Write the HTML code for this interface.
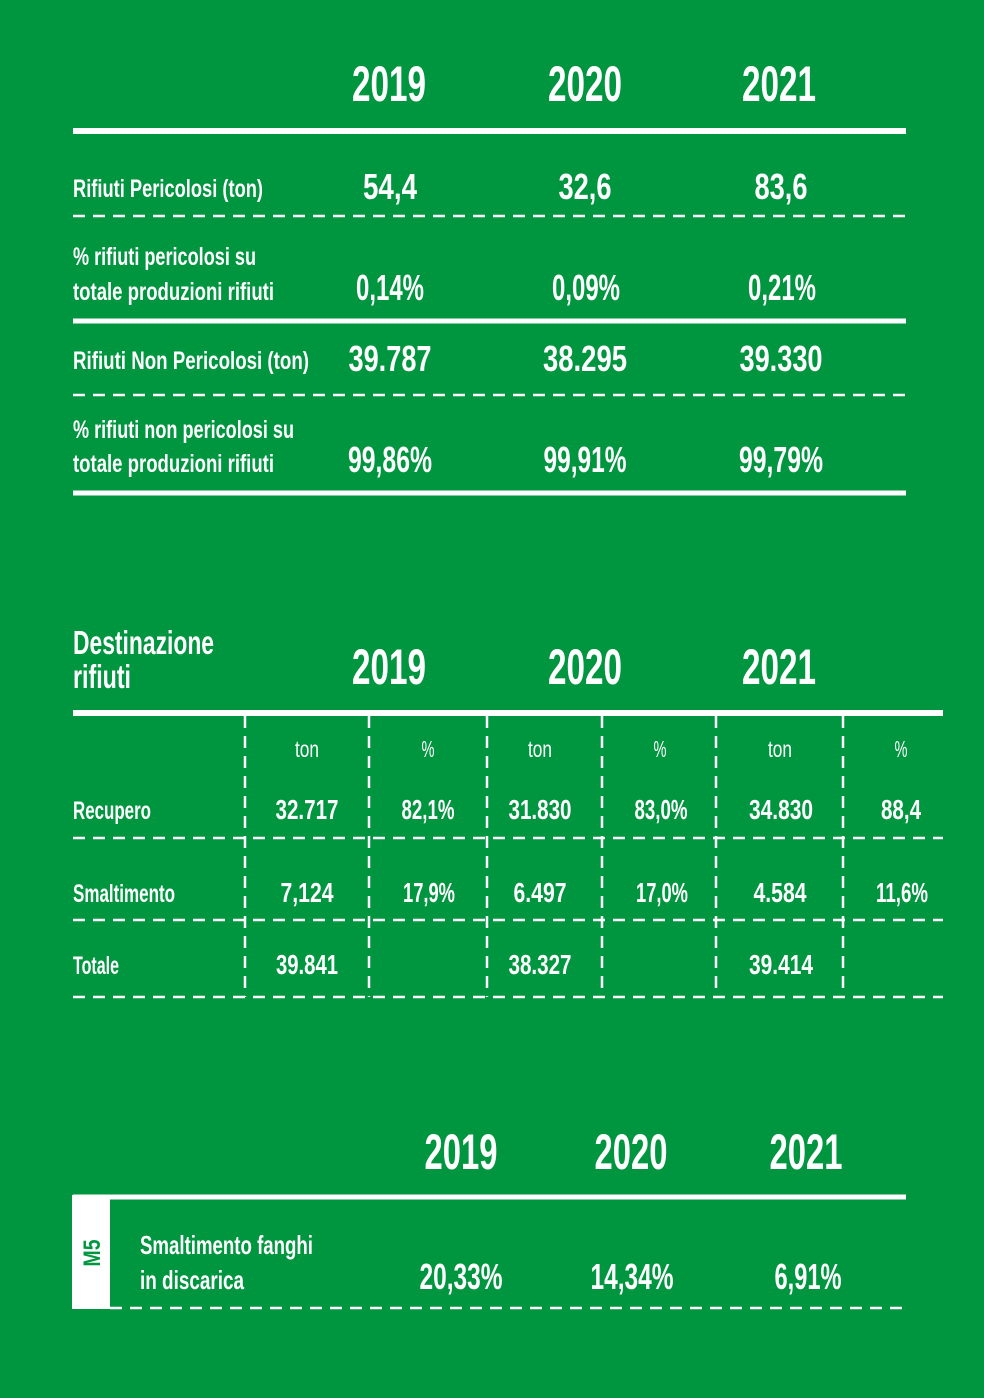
<!DOCTYPE html>
<html><head><meta charset="utf-8"><style>
html,body{margin:0;padding:0;background:#00963f;}
svg{display:block}
text{font-family:"Liberation Sans",sans-serif;fill:#fff;font-weight:bold}
.y{font-size:50px;text-anchor:middle}
.v{font-size:36px;text-anchor:middle}
.l{font-size:25px}
.h{font-size:23px;font-weight:normal;text-anchor:middle}
.c{font-size:28px;text-anchor:middle}
.r{font-size:26px}
</style></head><body>
<svg width="984" height="1398" viewBox="0 0 984 1398">
<rect width="984" height="1398" fill="#00963f"/>
<g stroke="#fff" fill="none">
<line x1="73" y1="131" x2="906" y2="131" stroke-width="6"/>
<line x1="73" y1="321" x2="906" y2="321" stroke-width="5"/>
<line x1="73" y1="493" x2="906" y2="493" stroke-width="5"/>
<g stroke-width="2.5" stroke-dasharray="12 8">
<line x1="73" y1="216" x2="906" y2="216"/>
<line x1="73" y1="395" x2="906" y2="395"/>
</g>
<line x1="73" y1="713" x2="943" y2="713" stroke-width="6"/>
<g stroke-width="2.5" stroke-dasharray="12 8">
<line x1="73" y1="838" x2="943" y2="838"/>
<line x1="73" y1="920" x2="943" y2="920"/>
<line x1="73" y1="997" x2="943" y2="997"/>
<line x1="245" y1="716" x2="245" y2="997"/>
<line x1="369" y1="716" x2="369" y2="997"/>
<line x1="487" y1="716" x2="487" y2="997"/>
<line x1="602" y1="716" x2="602" y2="997"/>
<line x1="716" y1="716" x2="716" y2="997"/>
<line x1="843" y1="716" x2="843" y2="997"/>
</g>
<line x1="73" y1="1197" x2="906" y2="1197" stroke-width="5"/>
<line x1="110" y1="1308" x2="906" y2="1308" stroke-width="2.5" stroke-dasharray="12 8"/>
</g>
<g lengthAdjust="spacingAndGlyphs">
<text class="y" x="389" y="101" textLength="74" lengthAdjust="spacingAndGlyphs">2019</text>
<text class="y" x="585" y="101" textLength="74" lengthAdjust="spacingAndGlyphs">2020</text>
<text class="y" x="779" y="101" textLength="74" lengthAdjust="spacingAndGlyphs">2021</text>

<text class="l" x="73" y="197" textLength="190" lengthAdjust="spacingAndGlyphs">Rifiuti Pericolosi (ton)</text>
<text class="v" x="390" y="199" textLength="54" lengthAdjust="spacingAndGlyphs">54,4</text>
<text class="v" x="585" y="199" textLength="53" lengthAdjust="spacingAndGlyphs">32,6</text>
<text class="v" x="781" y="199" textLength="53" lengthAdjust="spacingAndGlyphs">83,6</text>

<text class="l" x="73" y="265" textLength="183" lengthAdjust="spacingAndGlyphs">% rifiuti pericolosi su</text>
<text class="l" x="73" y="300" textLength="201" lengthAdjust="spacingAndGlyphs">totale produzioni rifiuti</text>
<text class="v" x="390" y="300" textLength="68" lengthAdjust="spacingAndGlyphs">0,14%</text>
<text class="v" x="586" y="300" textLength="68" lengthAdjust="spacingAndGlyphs">0,09%</text>
<text class="v" x="782" y="300" textLength="68" lengthAdjust="spacingAndGlyphs">0,21%</text>

<text class="l" x="73" y="369" textLength="236" lengthAdjust="spacingAndGlyphs">Rifiuti  Non Pericolosi (ton)</text>
<text class="v" x="390" y="371" textLength="83" lengthAdjust="spacingAndGlyphs">39.787</text>
<text class="v" x="585" y="371" textLength="84" lengthAdjust="spacingAndGlyphs">38.295</text>
<text class="v" x="781" y="371" textLength="83" lengthAdjust="spacingAndGlyphs">39.330</text>

<text class="l" x="73" y="438" textLength="221" lengthAdjust="spacingAndGlyphs">% rifiuti non pericolosi su</text>
<text class="l" x="73" y="472" textLength="201" lengthAdjust="spacingAndGlyphs">totale produzioni rifiuti</text>
<text class="v" x="390" y="472" textLength="84" lengthAdjust="spacingAndGlyphs">99,86%</text>
<text class="v" x="585" y="472" textLength="83" lengthAdjust="spacingAndGlyphs">99,91%</text>
<text class="v" x="781" y="472" textLength="84" lengthAdjust="spacingAndGlyphs">99,79%</text>

<text x="73" y="654" style="font-size:33px" textLength="141" lengthAdjust="spacingAndGlyphs">Destinazione</text>
<text x="73" y="688" style="font-size:33px" textLength="58" lengthAdjust="spacingAndGlyphs">rifiuti</text>
<text class="y" x="389" y="684" textLength="74" lengthAdjust="spacingAndGlyphs">2019</text>
<text class="y" x="585" y="684" textLength="74" lengthAdjust="spacingAndGlyphs">2020</text>
<text class="y" x="779" y="684" textLength="74" lengthAdjust="spacingAndGlyphs">2021</text>

<text class="h" x="307" y="757" textLength="24" lengthAdjust="spacingAndGlyphs">ton</text>
<text class="h" x="428" y="757" textLength="13" lengthAdjust="spacingAndGlyphs">%</text>
<text class="h" x="540" y="757" textLength="24" lengthAdjust="spacingAndGlyphs">ton</text>
<text class="h" x="660" y="757" textLength="13" lengthAdjust="spacingAndGlyphs">%</text>
<text class="h" x="780" y="757" textLength="24" lengthAdjust="spacingAndGlyphs">ton</text>
<text class="h" x="901" y="757" textLength="13" lengthAdjust="spacingAndGlyphs">%</text>

<text class="l" x="73" y="819" textLength="78" lengthAdjust="spacingAndGlyphs">Recupero</text>
<text class="c" x="307" y="819" textLength="63" lengthAdjust="spacingAndGlyphs">32.717</text>
<text class="c" x="428" y="819" textLength="53" lengthAdjust="spacingAndGlyphs">82,1%</text>
<text class="c" x="540" y="819" textLength="63" lengthAdjust="spacingAndGlyphs">31.830</text>
<text class="c" x="661" y="819" textLength="53" lengthAdjust="spacingAndGlyphs">83,0%</text>
<text class="c" x="781" y="819" textLength="64" lengthAdjust="spacingAndGlyphs">34.830</text>
<text class="c" x="901" y="819" textLength="40" lengthAdjust="spacingAndGlyphs">88,4</text>

<text class="l" x="73" y="902" textLength="102" lengthAdjust="spacingAndGlyphs">Smaltimento</text>
<text class="c" x="307" y="902" textLength="53" lengthAdjust="spacingAndGlyphs">7,124</text>
<text class="c" x="429" y="902" textLength="52" lengthAdjust="spacingAndGlyphs">17,9%</text>
<text class="c" x="540" y="902" textLength="53" lengthAdjust="spacingAndGlyphs">6.497</text>
<text class="c" x="662" y="902" textLength="52" lengthAdjust="spacingAndGlyphs">17,0%</text>
<text class="c" x="780" y="902" textLength="53" lengthAdjust="spacingAndGlyphs">4.584</text>
<text class="c" x="902" y="902" textLength="52" lengthAdjust="spacingAndGlyphs">11,6%</text>

<text class="l" x="73" y="974" textLength="46" lengthAdjust="spacingAndGlyphs">Totale</text>
<text class="c" x="307" y="974" textLength="62" lengthAdjust="spacingAndGlyphs">39.841</text>
<text class="c" x="540" y="974" textLength="63" lengthAdjust="spacingAndGlyphs">38.327</text>
<text class="c" x="781" y="974" textLength="64" lengthAdjust="spacingAndGlyphs">39.414</text>

<text class="y" x="461" y="1169" textLength="73" lengthAdjust="spacingAndGlyphs">2019</text>
<text class="y" x="631" y="1169" textLength="73" lengthAdjust="spacingAndGlyphs">2020</text>
<text class="y" x="806" y="1169" textLength="73" lengthAdjust="spacingAndGlyphs">2021</text>
</g>
<rect x="72" y="1195" width="38" height="114" fill="#fff"/>
<text transform="translate(100,1253) rotate(-90)" style="font-size:24px;fill:#00963f;text-anchor:middle" textLength="27" lengthAdjust="spacingAndGlyphs">M5</text>
<text class="r" x="140" y="1254" textLength="173" lengthAdjust="spacingAndGlyphs">Smaltimento fanghi</text>
<text class="r" x="140" y="1289" textLength="104" lengthAdjust="spacingAndGlyphs">in discarica</text>
<text class="v" x="461" y="1289" textLength="83" lengthAdjust="spacingAndGlyphs">20,33%</text>
<text class="v" x="632" y="1289" textLength="83" lengthAdjust="spacingAndGlyphs">14,34%</text>
<text class="v" x="808" y="1289" textLength="67" lengthAdjust="spacingAndGlyphs">6,91%</text>
</svg>
</body></html>
